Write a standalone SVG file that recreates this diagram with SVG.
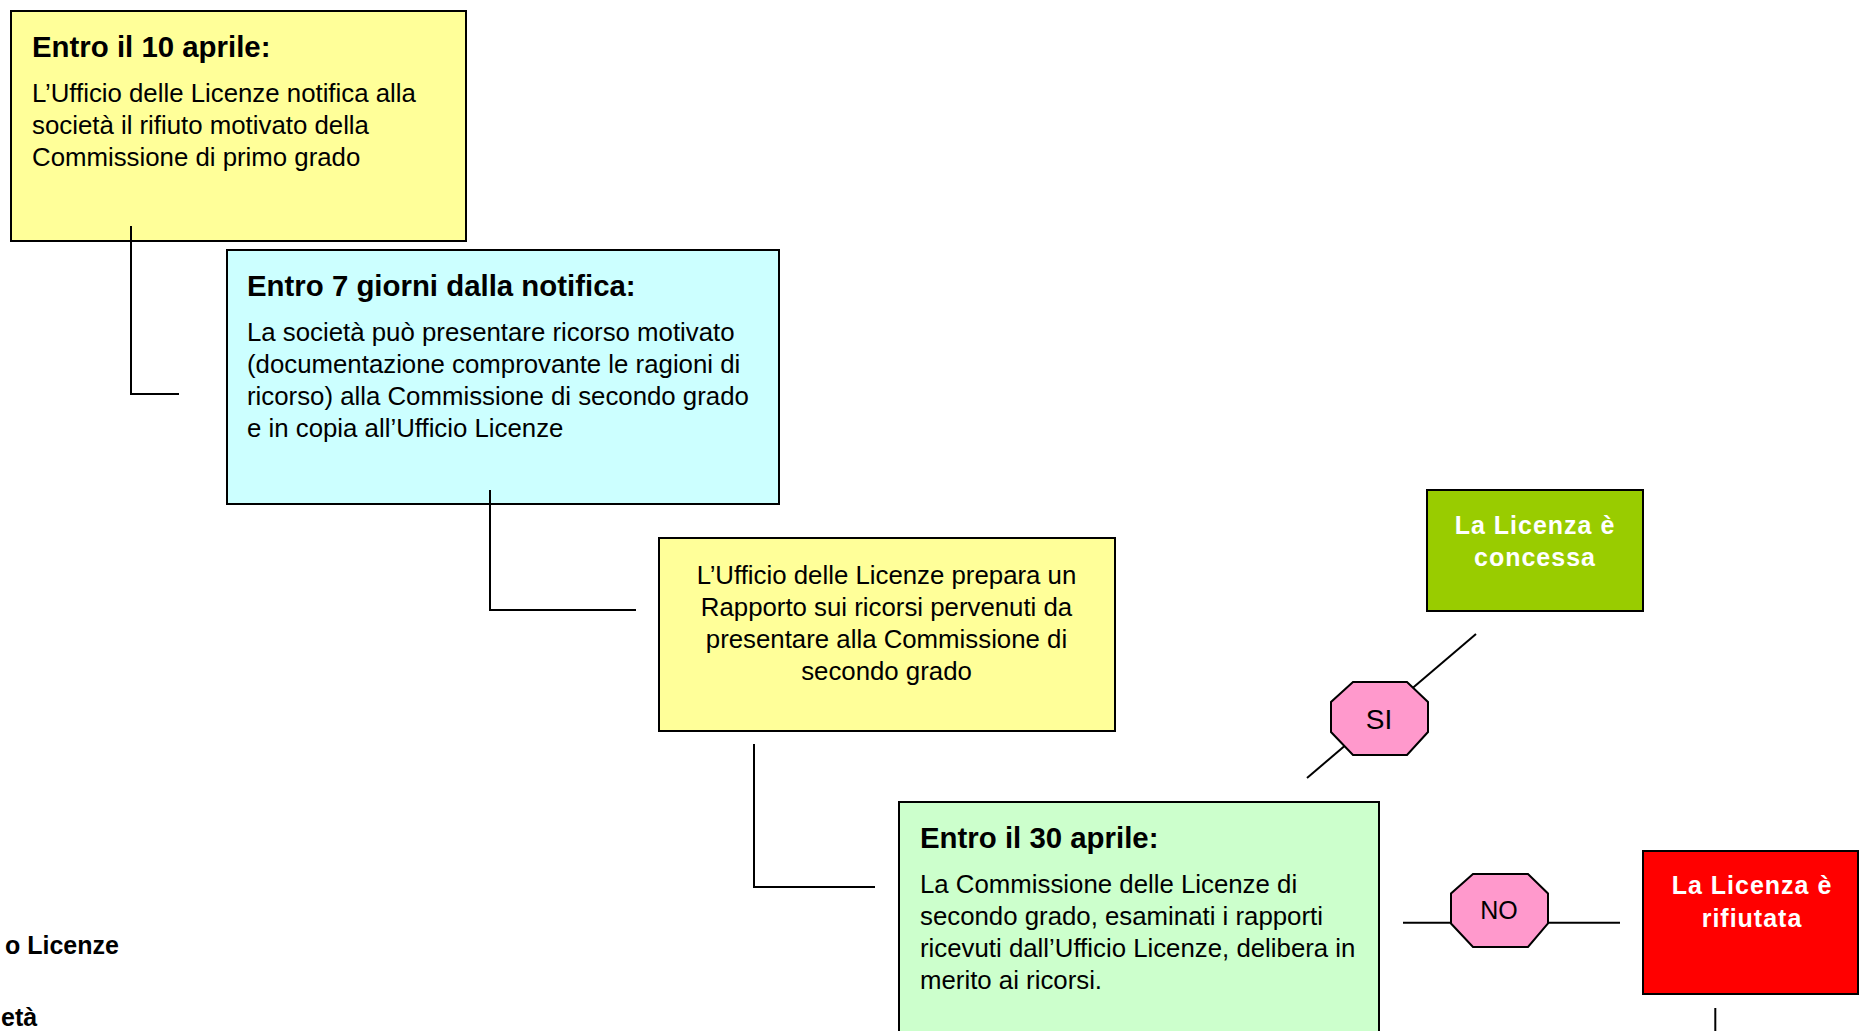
<svg xmlns="http://www.w3.org/2000/svg" width="1860" height="1031" viewBox="0 0 1860 1031">
<style>
.box{stroke:#000;stroke-width:2}
.t{font-family:"Liberation Sans",Arial,sans-serif;font-size:29.4px;font-weight:bold;fill:#000}
.b{font-family:"Liberation Sans",Arial,sans-serif;font-size:25.8px;fill:#000}
.w{font-family:"Liberation Sans",Arial,sans-serif;font-size:25px;font-weight:bold;fill:#fff;letter-spacing:1px;text-anchor:middle}
.oct{fill:#FF99CC;stroke:#000;stroke-width:2}
.lab{font-family:"Liberation Sans",Arial,sans-serif;font-size:25px;fill:#000;text-anchor:middle}
.side{font-family:"Liberation Sans",Arial,sans-serif;font-size:25px;font-weight:bold;fill:#000}
.c{fill:none;stroke:#000;stroke-width:2}
</style>
<rect width="1860" height="1031" fill="#fff"/>
<g id="box1">
<rect class="box" x="11" y="11" width="455" height="230" fill="#FFFF99"/>
<text class="t" x="32" y="56.5">Entro il 10 aprile:</text>
<text class="b" x="32" y="101.7">L’Ufficio delle Licenze notifica alla</text>
<text class="b" x="32" y="133.7">società il rifiuto motivato della</text>
<text class="b" x="32" y="165.7">Commissione di primo grado</text>
</g>
<g id="box2">
<rect class="box" x="227" y="250" width="552" height="254" fill="#CCFFFF"/>
<text class="t" x="247" y="296">Entro 7 giorni dalla notifica:</text>
<text class="b" x="247" y="341">La società può presentare ricorso motivato</text>
<text class="b" x="247" y="373">(documentazione comprovante le ragioni di</text>
<text class="b" x="247" y="405">ricorso) alla Commissione di secondo grado</text>
<text class="b" x="247" y="437">e in copia all’Ufficio Licenze</text>
</g>
<g id="box3">
<rect class="box" x="659" y="538" width="456" height="193" fill="#FFFF99"/>
<text class="b" x="886.5" y="583.5" text-anchor="middle">L’Ufficio delle Licenze prepara un</text>
<text class="b" x="886.5" y="615.5" text-anchor="middle">Rapporto sui ricorsi pervenuti da</text>
<text class="b" x="886.5" y="647.5" text-anchor="middle">presentare alla Commissione di</text>
<text class="b" x="886.5" y="679.5" text-anchor="middle">secondo grado</text>
</g>
<g id="box4">
<rect class="box" x="899" y="802" width="480" height="240" fill="#CCFFCC"/>
<text class="t" x="920" y="847.5">Entro il 30 aprile:</text>
<text class="b" x="920" y="892.7">La Commissione delle Licenze di</text>
<text class="b" x="920" y="924.7">secondo grado, esaminati i rapporti</text>
<text class="b" x="920" y="956.7">ricevuti dall’Ufficio Licenze, delibera in</text>
<text class="b" x="920" y="988.7">merito ai ricorsi.</text>
</g>
<g id="connectors">
<polyline class="c" points="131,226 131,394 179,394"/>
<polyline class="c" points="490,490 490,610 636,610"/>
<polyline class="c" points="754,744 754,887 875,887"/>
<line class="c" x1="1307" y1="778" x2="1476" y2="634"/>
<line class="c" x1="1403" y1="922.7" x2="1620" y2="922.7"/>
<line class="c" x1="1715.3" y1="1008" x2="1715.3" y2="1031"/>
</g>
<g id="licenza-concessa">
<rect class="box" x="1427" y="490" width="216" height="121" fill="#99CC00"/>
<text class="w" x="1535" y="533.5">La Licenza è</text>
<text class="w" x="1535" y="565.5">concessa</text>
</g>
<g id="licenza-rifiutata">
<rect class="box" x="1643" y="851" width="215" height="143" fill="#FF0000"/>
<text class="w" x="1752" y="894">La Licenza è</text>
<text class="w" x="1752" y="926.5">rifiutata</text>
</g>
<g id="si">
<polygon class="oct" points="1353,682 1407,682 1428,702 1428,732 1407,755 1353,755 1331,732 1331,702"/>
<text class="lab" x="1379" y="728.5" style="font-size:28px">SI</text>
</g>
<g id="no">
<polygon class="oct" points="1473,874 1528,874 1548,893.5 1548,923.5 1528,947 1473,947 1451,923.5 1451,893.5"/>
<text class="lab" x="1499" y="919">NO</text>
</g>
<g id="side-labels">
<text class="side" x="5" y="954">o Licenze</text>
<text class="side" x="1" y="1026">età</text>
</g>
</svg>
